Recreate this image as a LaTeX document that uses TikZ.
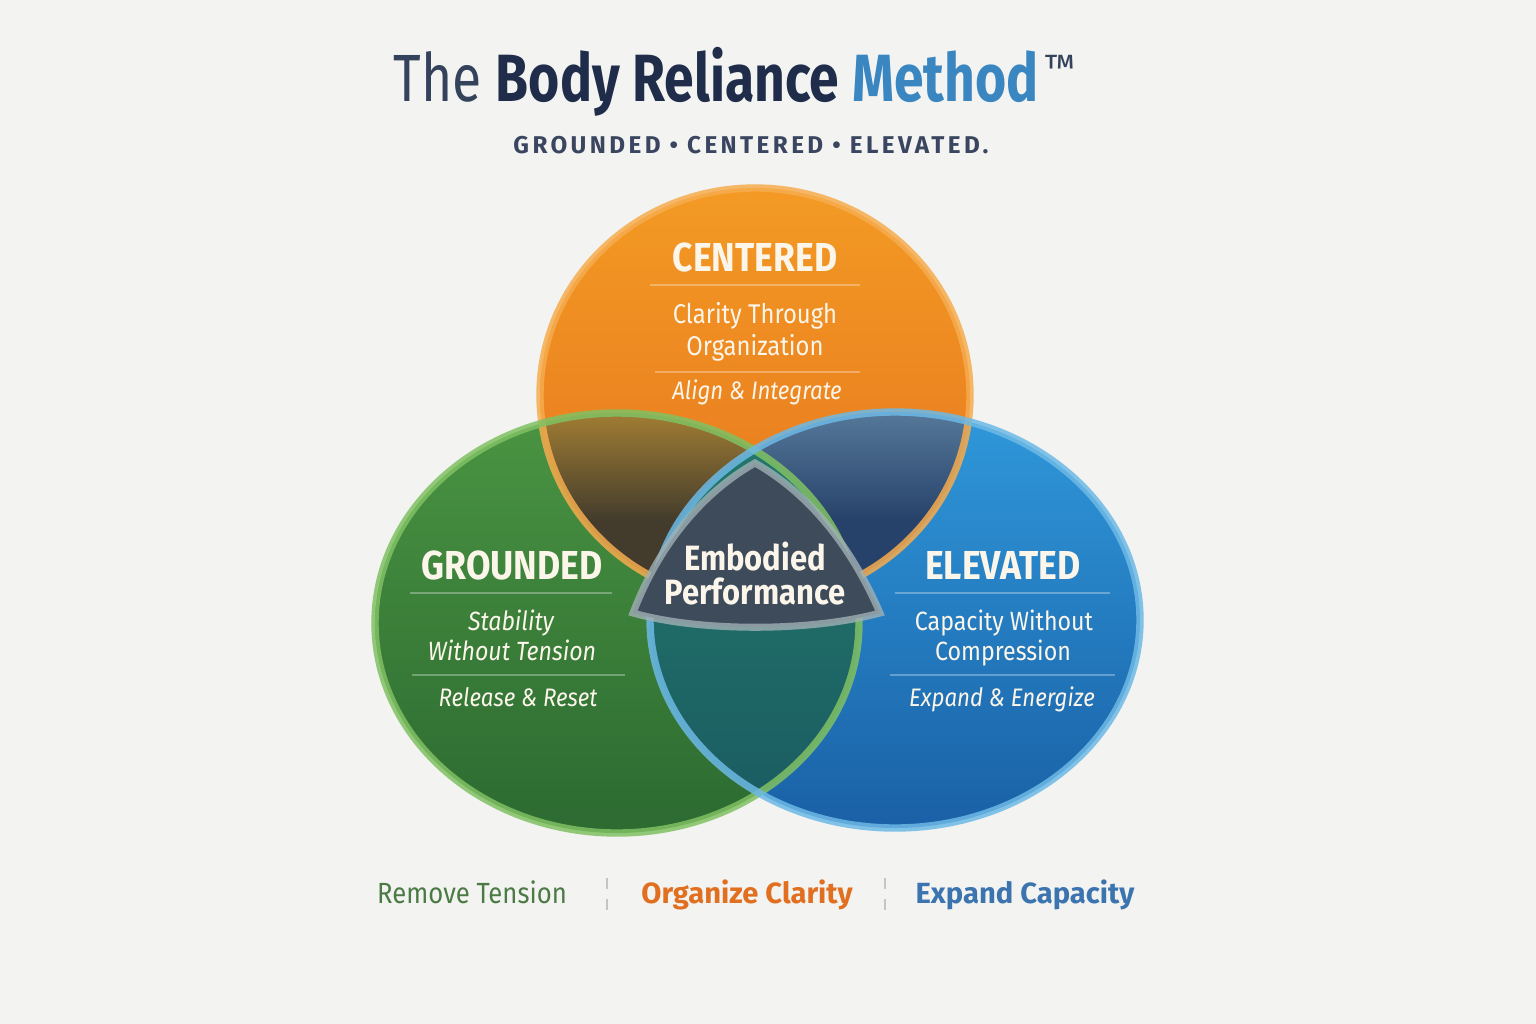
\documentclass[tikz,border=0pt]{standalone}
\usepackage{fontspec}
\setmainfont{Fira Sans}
\newfontfamily\titlefont[FakeStretch=0.8]{Fira Sans}
\newfontfamily\condfont[FakeStretch=0.88]{Fira Sans}
\newfontfamily\capsfont[LetterSpace=14]{Fira Sans}

\definecolor{paper}{HTML}{F3F3F1}
\definecolor{navy}{HTML}{1F2D4A}
\definecolor{navyL}{HTML}{34425C}
\definecolor{mottonavy}{HTML}{3A4660}
\definecolor{methodblue}{HTML}{3A86C0}
\definecolor{rulegray}{HTML}{C4C5C6}
\definecolor{orT}{HTML}{F39A24}
\definecolor{orB}{HTML}{E6731E}
\definecolor{orS}{HTML}{F6AC4E}
\definecolor{grT}{HTML}{4A9442}
\definecolor{grB}{HTML}{2C6A31}
\definecolor{grS}{HTML}{80C163}
\definecolor{blT}{HTML}{2F98DA}
\definecolor{blB}{HTML}{1A60A6}
\definecolor{blS}{HTML}{6DB9E6}
\definecolor{goT}{HTML}{A17D33}
\definecolor{goB}{HTML}{433C2C}
\definecolor{boT}{HTML}{56799A}
\definecolor{boB}{HTML}{27426A}
\definecolor{gbT}{HTML}{23776C}
\definecolor{gbB}{HTML}{1B5D62}
\definecolor{core}{HTML}{3E4B5B}
\definecolor{coreS}{HTML}{A0B0B4}
\definecolor{cream}{HTML}{FBF5EA}
\definecolor{remgreen}{HTML}{4C7A45}
\definecolor{orgorange}{HTML}{E0701F}
\definecolor{expblue}{HTML}{3C74B0}

\begin{document}
\begin{tikzpicture}[x=0.01cm, y=-0.01cm,
    head/.style={font=\condfont\bfseries\fontsize{11.5}{13}\selectfont, text=cream, anchor=base},
    sub/.style={font=\condfont\fontsize{7.7}{9}\selectfont, text=cream, anchor=base},
    tag/.style={font=\condfont\itshape\fontsize{7.2}{9}\selectfont, text=cream, anchor=base},
    divline/.style={white, opacity=0.3, line width=0.7pt},
    ring/.style={line width=2.1pt, opacity=0.85},
    foot/.style={font=\fontsize{8.3}{10}\selectfont, anchor=base}]
  \fill[paper] (0,0) rectangle (1536,1024);
  \useasboundingbox (0,0) rectangle (1536,1024);

  % centres of the three fields
  \coordinate (oC) at (755,395);
  \coordinate (gC) at (617,623);
  \coordinate (bC) at (895,620);

  % title
  \node[anchor=base] (title) at (716,101)
    {\titlefont\fontsize{19}{22}\selectfont\color{navyL}The \bfseries\color{navy}Body Reliance \color{methodblue}Method};
  \node[anchor=base, text=navyL, font=\fontsize{10}{12}\selectfont] (tm) at (1060,80) {™};
  \shade[left color=paper, middle color=rulegray, right color=paper] (390,121) rectangle (1090,123);
  \node[anchor=base, text=mottonavy, font=\capsfont\bfseries\fontsize{6.9}{8}\selectfont] (motto) at (751,153)
    {GROUNDED • CENTERED • ELEVATED.};

  % fields
  \shade[top color=orT, bottom color=orB] (oC) ellipse [x radius=215, y radius=207];
  \shade[top color=grT, bottom color=grB] (gC) ellipse [x radius=242, y radius=210];
  \shade[top color=blT, bottom color=blB] (bC) ellipse [x radius=245, y radius=208];

  % overlaps
  \begin{scope}
    \clip (gC) ellipse [x radius=242, y radius=210];
    \clip (oC) ellipse [x radius=215, y radius=207];
    \shade[top color=goT, bottom color=goB] (380,413) rectangle (970,520);
    \fill[goB] (380,519) rectangle (970,610);
  \end{scope}
  \begin{scope}
    \clip (bC) ellipse [x radius=245, y radius=208];
    \clip (oC) ellipse [x radius=215, y radius=207];
    \shade[top color=boT, bottom color=boB] (650,410) rectangle (1140,520);
    \fill[boB] (650,519) rectangle (1140,610);
  \end{scope}
  \begin{scope}
    \clip (gC) ellipse [x radius=242, y radius=210];
    \clip (bC) ellipse [x radius=245, y radius=208];
    \shade[top color=gbT, bottom color=gbB] (650,440) rectangle (862,800);
  \end{scope}

  % rims
  \draw[ring, orS] (oC) ellipse [x radius=215, y radius=207];
  \draw[ring, grS] (gC) ellipse [x radius=242, y radius=210];
  \draw[ring, blS] (bC) ellipse [x radius=245, y radius=208];

  % core
  \draw[fill=core, draw=coreS, line width=2pt, draw opacity=0.8, line join=miter]
    (755,463) .. controls (695,497) and (655,555) .. (633,613)
    .. controls (700,632) and (810,632) .. (880,613)
    .. controls (855,555) and (815,497) .. (755,463) -- cycle;
  \node[anchor=base, text=cream, font=\condfont\bfseries\fontsize{10}{12}\selectfont] (coreA) at (755,570) {Embodied};
  \node[anchor=base, text=cream, font=\condfont\bfseries\fontsize{10}{12}\selectfont] (coreB) at (755,604) {Performance};

  % centered
  \node[head] (cenHead) at (755,271) {CENTERED};
  \draw[divline] (650,285) -- (860,285);
  \node[sub] (cenSubA) at (755,323) {Clarity Through};
  \node[sub] (cenSubB) at (755,355) {Organization};
  \draw[divline] (655,372) -- (860,372);
  \node[tag] (cenTag) at (757,399) {Align \& Integrate};

  % grounded
  \node[head] (grHead) at (512,579) {GROUNDED};
  \draw[divline] (410,593) -- (612,593);
  \node[sub, font=\condfont\itshape\fontsize{7.5}{9}\selectfont] (grSubA) at (511,630) {Stability};
  \node[sub, font=\condfont\itshape\fontsize{7.5}{9}\selectfont] (grSubB) at (512,660) {Without Tension};
  \draw[divline] (412,675) -- (625,675);
  \node[tag] (grTag) at (518,706) {Release \& Reset};

  % elevated
  \node[head] (elHead) at (1003,579) {ELEVATED};
  \draw[divline] (895,593) -- (1110,593);
  \node[sub, font=\condfont\fontsize{7.5}{9}\selectfont] (elSubA) at (1004,630) {Capacity Without};
  \node[sub, font=\condfont\fontsize{7.5}{9}\selectfont] (elSubB) at (1003,660) {Compression};
  \draw[divline] (890,675) -- (1115,675);
  \node[tag] (elTag) at (1002,706) {Expand \& Energize};

  % footer
  \shade[left color=paper, middle color=rulegray, right color=paper] (270,862) rectangle (1270,864);
  \node[foot, text=remgreen, font=\condfont\fontsize{8.3}{10}\selectfont] (remove) at (472,903) {Remove Tension};
  \node[foot, text=orgorange, font=\bfseries\fontsize{8.3}{10}\selectfont] (organize) at (747,903) {Organize Clarity};
  \node[foot, text=expblue, font=\bfseries\fontsize{8.3}{10}\selectfont] (expand) at (1025,903) {Expand Capacity};
  \draw[rulegray, dashed, line width=0.5pt] (607,878) -- (607,910);
  \draw[rulegray, dashed, line width=0.5pt] (885,878) -- (885,910);
\end{tikzpicture}
\end{document}
